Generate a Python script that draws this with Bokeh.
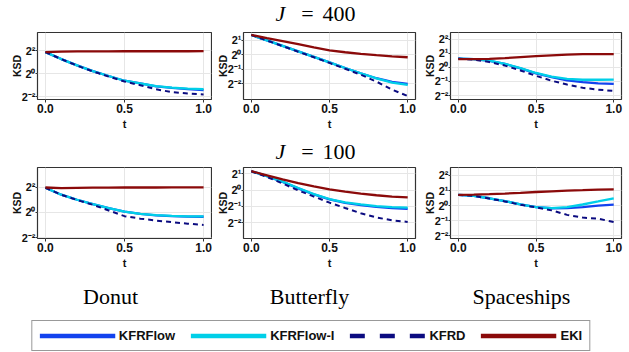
from bokeh.plotting import figure
from bokeh.layouts import column, row
from bokeh.models import Range1d, FixedTicker, Legend, LegendItem, Spacer
from bokeh.core.properties import value
from bokeh.embed import file_html
from bokeh.resources import INLINE

# ---------------- data ----------------
t = [0.0, 0.1, 0.2, 0.3, 0.4, 0.5, 0.6, 0.7, 0.8, 0.9, 1.0]

methods = ["KFRFlow", "KFRFlow-I", "KFRD", "EKI"]
datasets = ["Donut", "Butterfly", "Spaceships"]
ensemble_sizes = [400, 100]

x_ticks = [0.0, 0.5, 1.0]
x_tick_labels = ["0.0", "0.5", "1.0"]
y_ticks_all = [0.25, 0.5, 1, 2, 4]
y_tick_labels_all = ["2\u207b\u00b2", "2\u207b\u00b9", "2\u2070", "2\u00b9", "2\u00b2"]

# J = 400
donut400_kfrflow = [3.66, 2.41, 1.65, 1.17, 0.871, 0.655, 0.555, 0.467, 0.429, 0.395, 0.374]
donut400_kfrflow_i = [3.66, 2.41, 1.65, 1.17, 0.871, 0.655, 0.555, 0.473, 0.435, 0.409, 0.395]
donut400_kfrd = [3.66, 2.41, 1.63, 1.15, 0.841, 0.624, 0.500, 0.392, 0.330, 0.304, 0.287]
donut400_eki = [3.66, 3.78, 3.81, 3.84, 3.84, 3.86, 3.86, 3.86, 3.86, 3.86, 3.89]

butterfly400_kfrflow = [2.55, 1.97, 1.52, 1.17, 0.901, 0.693, 0.529, 0.412, 0.325, 0.272, 0.247]
butterfly400_kfrflow_i = [2.55, 1.97, 1.52, 1.17, 0.901, 0.693, 0.529, 0.412, 0.323, 0.264, 0.237]
butterfly400_kfrd = [2.55, 1.96, 1.50, 1.15, 0.883, 0.674, 0.511, 0.384, 0.277, 0.189, 0.139]
butterfly400_eki = [2.55, 2.20, 1.91, 1.65, 1.41, 1.23, 1.12, 1.04, 0.973, 0.920, 0.883]

spaceships400_kfrflow = [1.54, 1.50, 1.38, 1.18, 0.953, 0.747, 0.616, 0.529, 0.483, 0.457, 0.444]
spaceships400_kfrflow_i = [1.54, 1.50, 1.39, 1.19, 0.966, 0.758, 0.637, 0.566, 0.543, 0.543, 0.547]
spaceships400_kfrd = [1.54, 1.46, 1.30, 1.09, 0.859, 0.660, 0.518, 0.429, 0.366, 0.334, 0.314]
spaceships400_eki = [1.50, 1.50, 1.52, 1.57, 1.65, 1.73, 1.80, 1.87, 1.91, 1.92, 1.91]

# J = 100
donut100_kfrflow = [3.86, 2.64, 2.00, 1.57, 1.26, 1.04, 0.914, 0.847, 0.812, 0.790, 0.785]
donut100_kfrflow_i = [3.86, 2.64, 2.00, 1.57, 1.26, 1.04, 0.920, 0.858, 0.824, 0.801, 0.801]
donut100_kfrd = [3.86, 2.64, 1.97, 1.52, 1.11, 0.810, 0.707, 0.637, 0.582, 0.536, 0.500]
donut100_eki = [3.92, 3.81, 3.86, 3.89, 3.89, 3.92, 3.92, 3.92, 3.95, 3.95, 3.95]

butterfly100_kfrflow = [2.22, 1.80, 1.41, 1.07, 0.829, 0.674, 0.582, 0.529, 0.490, 0.467, 0.451]
butterfly100_kfrflow_i = [2.22, 1.80, 1.43, 1.09, 0.841, 0.683, 0.595, 0.543, 0.507, 0.483, 0.473]
butterfly100_kfrd = [2.22, 1.74, 1.32, 0.986, 0.758, 0.586, 0.467, 0.374, 0.312, 0.277, 0.259]
butterfly100_eki = [2.22, 1.87, 1.57, 1.34, 1.17, 1.03, 0.933, 0.858, 0.801, 0.758, 0.732]

spaceships100_kfrflow = [1.63, 1.57, 1.40, 1.23, 1.06, 0.933, 0.883, 0.889, 0.933, 1.00, 1.04]
spaceships100_kfrflow_i = [1.63, 1.57, 1.40, 1.23, 1.06, 0.933, 0.889, 0.933, 1.05, 1.21, 1.40]
spaceships100_kfrd = [1.63, 1.56, 1.38, 1.21, 1.04, 0.920, 0.801, 0.651, 0.574, 0.547, 0.467]
spaceships100_eki = [1.63, 1.65, 1.69, 1.74, 1.80, 1.87, 1.93, 1.99, 2.03, 2.09, 2.11]

panels = {
    (400, "Donut"): [donut400_kfrflow, donut400_kfrflow_i, donut400_kfrd, donut400_eki],
    (400, "Butterfly"): [butterfly400_kfrflow, butterfly400_kfrflow_i, butterfly400_kfrd, butterfly400_eki],
    (400, "Spaceships"): [spaceships400_kfrflow, spaceships400_kfrflow_i, spaceships400_kfrd, spaceships400_eki],
    (100, "Donut"): [donut100_kfrflow, donut100_kfrflow_i, donut100_kfrd, donut100_eki],
    (100, "Butterfly"): [butterfly100_kfrflow, butterfly100_kfrflow_i, butterfly100_kfrd, butterfly100_eki],
    (100, "Spaceships"): [spaceships100_kfrflow, spaceships100_kfrflow_i, spaceships100_kfrd, spaceships100_eki],
}

# ---------------- styles ----------------
BLUE = "#1242EE"
CYAN = "#00CFE8"
NAVY = "#0B0B80"
RED = "#8B0A0A"
COLORS = [BLUE, CYAN, NAVY, RED]
DASHES = ["solid", "solid", "5 4", "solid"]
SANS = "Liberation Sans"
SERIF = "Liberation Serif"

y_ticks_per_dataset = {
    "Donut": [0.25, 1, 4],
    "Butterfly": [0.25, 0.5, 1, 2],
    "Spaceships": [0.25, 0.5, 1, 2, 4],
}
y_range_per_panel = {
    (400, "Donut"): (0.212, 11.9),
    (400, "Butterfly"): (0.118, 2.87),
    (400, "Spaceships"): (0.206, 5.54),
    (100, "Donut"): (0.237, 11.8),
    (100, "Butterfly"): (0.128, 2.60),
    (100, "Spaceships"): (0.219, 5.78),
}
LEFT_B = 30
gap_before = [7, 1, 3]
frame_w = [174, 172, 171]
col_right = [1, 2, 3]
PAGE_W = 629
FRAME_H = 74


def make_panel(J, ds, ci, top_b, bottom_b):
    lo, hi = y_range_per_panel[(J, ds)]
    p = figure(width=LEFT_B + frame_w[ci] + col_right[ci], height=top_b + FRAME_H + bottom_b,
               y_axis_type="log",
               x_range=Range1d(-0.05, 1.05), y_range=Range1d(lo, hi),
               output_backend="svg", toolbar_location=None, title=None,
               min_border_left=LEFT_B, min_border_right=col_right[ci],
               min_border_top=top_b, min_border_bottom=bottom_b)
    for vals, c, d in zip(panels[(J, ds)], COLORS, DASHES):
        p.line(t, vals, line_color=c, line_width=2.3 if d == "solid" else 2.0, line_dash=d)
    yt = y_ticks_per_dataset[ds]
    labels = {v: l for v, l in zip(y_ticks_all, y_tick_labels_all) if v in yt}
    xt = FixedTicker(ticks=x_ticks)
    ytk = FixedTicker(ticks=yt)
    p.xaxis.ticker = xt
    p.yaxis.ticker = ytk
    p.xgrid.ticker = xt
    p.ygrid.ticker = ytk
    p.xaxis.major_label_overrides = dict(zip(x_ticks, x_tick_labels))
    p.yaxis.major_label_overrides = labels
    p.xaxis.axis_label = "t"
    p.yaxis.axis_label = "KSD"
    for ax in (p.xaxis[0], p.yaxis[0]):
        ax.axis_line_color = None
        ax.major_tick_in = 0
        ax.major_tick_line_color = "#333333"
        ax.minor_tick_line_color = None
        ax.major_label_text_font = SANS
        ax.major_label_text_font_style = "bold"
        ax.major_label_text_color = "#111111"
        ax.axis_label_text_font = SANS
        ax.axis_label_text_font_style = "bold"
        ax.axis_label_text_color = "#111111"
    p.xaxis.major_tick_out = 3
    p.xaxis.major_label_standoff = 1
    p.xaxis.major_label_text_font_size = "12px"
    p.xaxis.axis_label_text_font_size = "11px"
    p.xaxis.axis_label_standoff = 2
    p.yaxis.major_tick_out = 2
    p.yaxis.major_label_standoff = 0
    p.yaxis.major_label_text_font_size = "11px"
    p.yaxis.axis_label_text_font_size = "10.5px"
    p.yaxis.axis_label_standoff = -4
    p.grid.grid_line_color = "#E6E6E6"
    p.grid.grid_line_width = 1
    p.outline_line_color = "#333333"
    p.outline_line_width = 1.2
    p.background_fill_color = "white"
    p.border_fill_color = "white"
    return p


def make_panel_row(J, top_b, bottom_b):
    kids = []
    for ci, ds in enumerate(datasets):
        kids.append(Spacer(width=gap_before[ci], height=top_b + FRAME_H + bottom_b))
        kids.append(make_panel(J, ds, ci, top_b, bottom_b))
    return row(*kids)


def make_header(J, h, baseline):
    f = figure(width=PAGE_W, height=h, x_range=Range1d(0, PAGE_W), y_range=Range1d(h, 0),
               x_axis_location=None, y_axis_location=None, min_border=0, title=None,
               output_backend="svg", toolbar_location=None, outline_line_color=None)
    f.grid.visible = False
    common = dict(text_font=value(SERIF), text_font_size="22px", text_baseline="alphabetic",
                  text_color="#000000")
    f.text(x=[275], y=[baseline], text=["J"], text_font_style="italic", text_align="left", **common)
    f.text(x=[307], y=[baseline], text=["="], text_align="center", **common)
    f.text(x=[322], y=[baseline], text=[str(J)], text_align="left", **common)
    return f


rows = [
    make_header(ensemble_sizes[0], 28, 13),      # 0..28
    make_panel_row(ensemble_sizes[0], 4, 26),    # 28..132
    make_header(ensemble_sizes[1], 34, 19),      # 132..166
    make_panel_row(ensemble_sizes[1], 1, 30),    # 166..271
]

# footer: dataset names + legend
FOOT_H = 81
FOOT_W = 621
foot = figure(width=FOOT_W, height=FOOT_H, x_range=Range1d(0, FOOT_W), y_range=Range1d(FOOT_H, 0),
              x_axis_location=None, y_axis_location=None, min_border=0, title=None,
              output_backend="svg", toolbar_location=None, outline_line_color=None)
foot.grid.visible = False
foot.text(x=[110, 309, 521], y=[25, 25, 25], text=datasets, text_align="center",
          text_baseline="alphabetic", text_font=value(SERIF), text_font_size="22px",
          text_color="#000000")
legend_dash = ["solid", "solid", "15 15", "solid"]
items = []
for m, c, d in zip(methods, COLORS, legend_dash):
    # off-screen placeholder renderer, only used to draw the legend key
    r = foot.line([-100, -90], [-100, -100], line_color=c, line_width=4.5, line_dash=d)
    items.append(LegendItem(label=m, renderers=[r]))
legend = Legend(items=items, orientation="horizontal", location="bottom_center",
                glyph_width=76, glyph_height=15, label_height=15, label_standoff=4,
                spacing=15, padding=7, margin=1,
                label_text_font=SANS, label_text_font_style="bold", label_text_font_size="13px",
                label_text_color="#111111",
                border_line_color="#333333", border_line_width=1.2,
                background_fill_color="white", background_fill_alpha=1)
foot.add_layout(legend, "center")
rows.append(foot)

layout = column(*rows)
open("out.html", "w").write(file_html(layout, INLINE))
